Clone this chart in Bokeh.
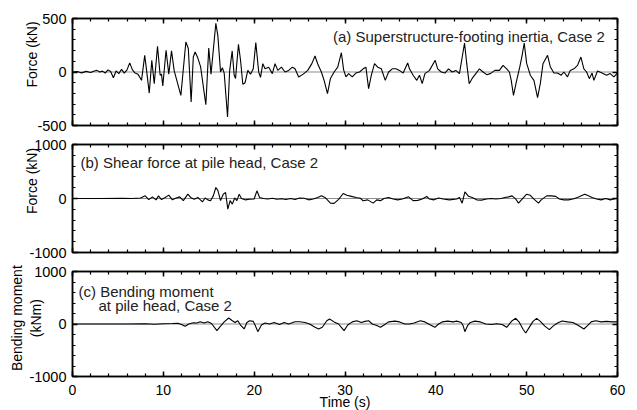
from bokeh.plotting import figure
from bokeh.layouts import column
from bokeh.models import LinearAxis, Range1d, Span, Label, FixedTicker
from bokeh.embed import file_html
from bokeh.resources import INLINE

FONT = "Liberation Sans"

# ---------------- data ----------------
x_major = [0, 10, 20, 30, 40, 50, 60]
x_minor = list(range(0, 61, 2))

# (a) Superstructure-footing inertia (kN)
t_a = [0.0, 0.5, 1.0, 1.5, 2.0, 2.4, 2.7, 3.0, 3.3, 3.6, 3.9, 4.2, 4.5, 4.8, 5.1, 5.4, 5.7, 6.0,
       6.3, 6.6, 6.9, 7.2, 7.6, 7.95, 8.15, 8.45, 8.73, 9.0, 9.36, 9.65, 9.8, 9.94, 10.3, 10.6,
       10.9, 11.2, 11.93, 12.48, 12.75, 13.06, 13.3, 13.5, 13.8, 14.1, 14.68, 15.0, 15.25, 15.78,
       16.0, 16.3, 16.5, 16.7, 17.07, 17.3, 17.58, 17.8, 17.95, 18.27, 18.5, 18.75, 19.0, 19.3,
       19.6, 19.9, 20.18, 20.5, 20.7, 20.95, 21.2, 21.6, 22.0, 22.3, 22.6, 23.0, 23.4, 23.8, 24.2,
       24.5, 24.9, 25.4, 25.9, 26.35, 26.7, 27.0, 27.4, 27.7, 28.07, 28.4, 28.8, 29.2, 29.6,
       29.85, 30.1, 30.4, 30.8, 31.2, 31.6, 32.0, 32.3, 32.6, 32.9, 33.25, 33.6, 34.0, 34.43,
       34.8, 35.2, 35.6, 36.0, 36.4, 36.9, 37.1, 37.5, 37.9, 38.2, 38.5, 38.8, 39.3, 39.93, 40.2,
       40.6, 41.0, 41.4, 41.8, 42.2, 42.6, 43.16, 43.4, 43.67, 44.0, 44.4, 44.8, 45.2, 45.6,
       46.0, 46.5, 47.0, 47.4, 47.8, 48.1, 48.3, 48.55, 48.9, 49.25, 49.5, 49.73, 50.0, 50.4,
       50.8, 51.2, 51.5, 51.8, 52.0, 52.3, 52.6, 53.0, 53.4, 53.8, 54.1, 54.5, 54.8, 55.2, 55.6,
       55.97, 56.3, 56.6, 56.9, 57.2, 57.4, 57.8, 58.3, 58.8, 59.2, 59.6, 60.0]
force_a = [0, 5, -8, 6, -5, 10, 15, 0, 8, -10, 20, 5, -53, 10, -15, 25, -10, 20,
           85, 20, -10, -20, -78, 156, 20, -197, 109, -109, 240, -31, -20, -131, 203, -20,
           197, 10, -218, 281, 220, -281, 140, 187, 130, 50, -306, 225, -20, 455,
           340, 0, 40, -10, -420, 10, 197, -30, -60, 259, 110, -115, -100, 15,
           -20, 30, 275, 0, -50, 78, 30, 45, -15, 78, 15, 45, 0, 15, 45,
           30, -47, -20, 15, 78, 150, 75, 0, -78, -203, -60, 0, 45, 180,
           20, -45, -15, -45, -10, 0, 30, 45, -156, -30, 78, 45, 30, -78,
           0, 30, 30, 15, -10, 84, 30, -30, -78, -30, -109, -15, 15, 109, 30,
           0, -10, 30, 0, 15, -15, 271, 80, -109, -60, -15, 30, 0, -25,
           -15, 15, 15, 62, 30, 0, -78, -218, -78, 50, 156, 271, 80, -30,
           -78, -240, -109, 78, 109, 156, 50, -10, -10, -30, 0, -45, 15, 30, 62,
           140, 30, 0, -62, -10, -78, 10, -10, -30, -15, -45, -10]

# (b) Shear force at pile head (kN)
t_b = [0, 3.0, 5.5, 6.5, 7.5, 8.0, 8.4, 8.8, 9.2, 9.47, 9.8, 10.2, 10.6, 11.0, 11.4, 11.8, 12.2,
       12.7, 13.0, 13.4, 13.8, 14.3, 14.6, 14.9, 15.2, 15.5, 15.78, 16.0, 16.3, 16.6, 16.85, 17.1,
       17.35, 17.6, 17.85, 18.1, 18.35, 18.6, 19.0, 19.5, 20.0, 20.3, 20.6, 21.0, 21.5, 22.0,
       22.5, 23.0, 23.5, 24.0, 24.5, 25.0, 25.5, 26.0, 26.5, 27.0, 27.4, 27.8, 28.4, 28.8, 29.3,
       29.8, 30.2, 30.7, 31.2, 31.7, 32.0, 32.5, 33.1, 33.5, 33.9, 34.3, 34.8, 35.3, 35.8, 36.3,
       37.0, 37.5, 38.0, 38.5, 39.0, 39.3, 39.8, 40.3, 40.8, 41.5, 42.3, 42.6, 42.9, 43.2, 43.6,
       44.0, 44.5, 45.0, 45.6, 46.1, 46.6, 47.2, 47.6, 48.0, 48.4, 48.8, 49.1, 49.5, 50.0, 50.4,
       50.8, 51.3, 51.6, 52.2, 52.7, 53.2, 53.6, 54.1, 54.6, 55.1, 55.6, 56.0, 56.4, 56.8, 57.2,
       57.7, 58.2, 58.7, 59.2, 59.6, 60.0]
force_b = [0, 0, 5, 0, 10, 49, -20, 30, -25, 49, -20, 20, 62, -25, 10, 30, -40,
           80, 20, -15, 20, -62, 10, -25, -40, 49, 204, 150, -40, 80, 111, -197,
           -40, -105, 10, -40, 80, 0, -25, -15, -10, 142, 20, 0, -10, 5,
           -15, -5, -20, 0, -20, 10, 5, -25, -10, 20, 49, 20, -86, -90, -15,
           93, 60, 40, 20, 5, -43, -25, -86, -25, -40, 0, 20, -10, -25, -10,
           31, -40, -35, -10, 37, -10, -25, 10, -10, -25, -10, 20, -86, 123, 40,
           20, -25, -30, -10, 0, -10, 0, 20, 30, 49, -10, -86, -10, 80, 60,
           -10, -86, -25, 49, 49, 40, -10, -25, -25, -10, 20, 49, 80, 49, 20,
           -10, -25, 0, -25, -10, 5]

# (c) Bending moment at pile head (kNm)
t_c = [0, 6, 8, 9, 10, 11, 11.6, 12.0, 12.4, 12.8, 13.3, 13.7, 14.05, 14.5, 14.9, 15.3, 15.9,
       16.3, 16.7, 17.2, 17.6, 17.9, 18.2, 18.5, 18.9, 19.2, 19.5, 19.9, 20.1, 20.4, 20.8, 21.2,
       21.7, 22.2, 22.8, 23.3, 23.8, 24.5, 25.0, 25.6, 26.1, 26.7, 27.1, 27.5, 28.0, 28.3, 28.8,
       29.3, 29.6, 29.9, 30.3, 30.8, 31.3, 31.8, 32.2, 32.6, 33.0, 33.5, 33.9, 34.3, 34.8, 35.5,
       36.0, 36.6, 37.1, 37.6, 38.3, 38.8, 39.3, 39.9, 40.3, 40.7, 41.3, 41.9, 42.3, 42.8, 43.0,
       43.2, 43.5, 43.8, 44.3, 44.9, 45.5, 46.1, 46.7, 47.3, 47.8, 48.4, 48.8, 49.2, 49.6, 49.9,
       50.3, 50.7, 51.1, 51.5, 52.0, 52.5, 52.9, 53.4, 53.9, 54.5, 55.1, 55.7, 56.3, 56.7, 57.1,
       57.6, 58.2, 58.8, 59.4, 60.0]
moment_c = [0, 0, 5, -5, 5, 10, 15, -10, -44, 0, 25, 20, 44, 20, 44, 10, -127,
            -40, 40, 114, 63, 30, 63, -20, -95, 30, 63, 50, -20, -146, -20, 19,
            0, 30, -10, 30, 0, 44, 44, 30, 0, -63, -95, -63, 63, 95, 40,
            0, -63, -127, -20, 40, 63, 30, 50, 63, 0, -30, -63, -20, 40, 55,
            40, 0, 0, 20, 63, 40, -10, -63, 0, 40, 55, 40, 55, 30, -30,
            -146, -30, 30, 55, 40, 0, -10, 5, -10, -63, 63, 108, 30, -100, -171,
            -60, 50, 108, 50, -40, -108, -40, 20, 57, 40, 30, -30, -95, -30, 40,
            63, 40, 50, 40, 40]

# y titles sit a little above the middle of each panel in the reference;
# leading no-break spaces nudge the centred label upwards
PAD = "\u00a0"
panels = [
    dict(t=t_a, y=force_a, yr=(-500, 500), ymaj=[-500, 0, 500], ymin=list(range(-500, 501, 100)),
         ylabel=PAD * 9 + "Force (kN)", ystand=-6,
         top=18, bottom=8, fh=107, show_x=False),
    dict(t=t_b, y=force_b, yr=(-1000, 1000), ymaj=[-1000, 0, 1000], ymin=list(range(-1000, 1001, 200)),
         ylabel=PAD * 9 + "Force (kN)", ystand=-14,
         top=11, bottom=8, fh=108, show_x=False),
    dict(t=t_c, y=moment_c, yr=(-1000, 1000), ymaj=[-1000, 0, 1000], ymin=list(range(-1000, 1001, 200)),
         ylabel=PAD * 3 + "Bending moment\n" + PAD * 3 + "(kNm)", ystand=-18,
         top=11, bottom=30, fh=105, show_x=True),
]


def style_axis(ax, ticker, show_labels, size="14.5px"):
    ax.ticker = ticker
    ax.axis_line_color = "black"
    ax.axis_line_width = 1.5
    ax.major_tick_line_color = "black"
    ax.major_tick_line_width = 1.5
    ax.minor_tick_line_color = "black"
    ax.minor_tick_line_width = 1.2
    ax.major_tick_in = 5
    ax.major_tick_out = 0
    ax.minor_tick_in = 3
    ax.minor_tick_out = 0
    ax.major_label_text_font = FONT
    ax.axis_label_text_font = FONT
    ax.axis_label_text_font_style = "normal"
    ax.axis_label_text_color = "black"
    if show_labels:
        ax.major_label_text_color = "black"
        ax.major_label_text_font_size = size
        ax.major_label_standoff = 6
        # plain ASCII hyphen for negative tick labels, as in the reference
        ax.major_label_overrides = {v: str(v) for v in ticker.ticks if v < 0}
    else:
        ax.major_label_text_color = None
        ax.major_label_text_font_size = "1px"
        ax.major_label_standoff = 0


x_range = Range1d(0, 60)
figs = []
for pnl in panels:
    p = figure(frame_width=545, frame_height=pnl["fh"], x_range=x_range,
               y_range=Range1d(*pnl["yr"]), output_backend="svg", toolbar_location=None,
               min_border_left=72, min_border_right=10,
               min_border_top=pnl["top"], min_border_bottom=pnl["bottom"])
    p.grid.visible = False
    p.outline_line_color = "black"
    p.outline_line_width = 1.5
    p.background_fill_color = "white"
    p.border_fill_color = "white"

    xt = FixedTicker(ticks=x_major, minor_ticks=x_minor)
    yt = FixedTicker(ticks=pnl["ymaj"], minor_ticks=pnl["ymin"])

    style_axis(p.xaxis[0], xt, pnl["show_x"], size="14px")
    style_axis(p.yaxis[0], yt, True)
    yax = p.yaxis[0]
    yax.axis_label = pnl["ylabel"]
    yax.axis_label_text_font_size = "14px"
    yax.axis_label_standoff = pnl["ystand"]
    if pnl["show_x"]:
        p.xaxis[0].major_label_standoff = 8
        p.xaxis[0].axis_label = "Time (s)"
        p.xaxis[0].axis_label_text_font_size = "14px"
        p.xaxis[0].axis_label_standoff = -4

    top_ax = LinearAxis()
    style_axis(top_ax, FixedTicker(ticks=x_major, minor_ticks=x_minor), False)
    p.add_layout(top_ax, "above")
    right_ax = LinearAxis()
    style_axis(right_ax, FixedTicker(ticks=pnl["ymaj"], minor_ticks=pnl["ymin"]), False)
    p.add_layout(right_ax, "right")

    p.add_layout(Span(location=0, dimension="width", line_color="#8c8c8c", line_width=1.2,
                      level="underlay"))
    p.line(pnl["t"], pnl["y"], line_color="black", line_width=1.1)
    figs.append(p)

pa, pb, pc = figs

ann = dict(text_baseline="middle", text_font=FONT, text_font_size="15px", text_color="#222222")
pa.add_layout(Label(x=58.6, y=332, text="(a) Superstructure-footing inertia, Case 2",
                    text_align="right", **ann))
pb.add_layout(Label(x=0.88, y=667, text="(b) Shear force at pile head, Case 2",
                    text_align="left", **ann))
pc.add_layout(Label(x=0.66, y=625, text="(c) Bending moment", text_align="left", **ann))
pc.add_layout(Label(x=2.86, y=352, text="at pile head, Case 2", text_align="left", **ann))

layout = column(pa, pb, pc, spacing=0)
open("out.html", "w").write(file_html(layout, INLINE))
